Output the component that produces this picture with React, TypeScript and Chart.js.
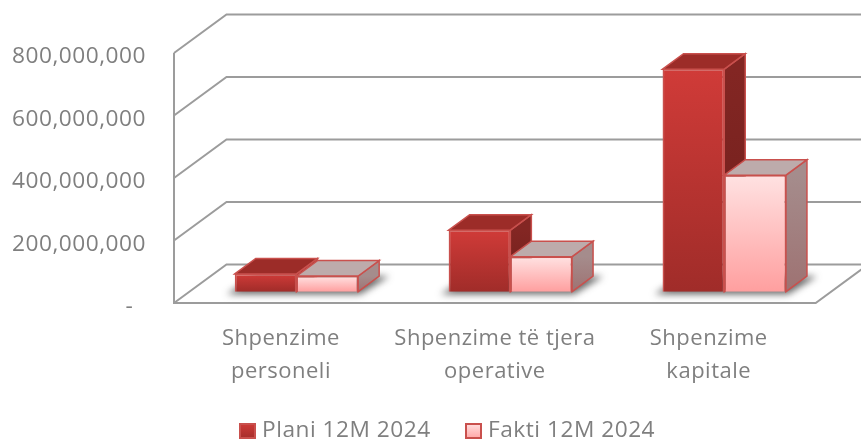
import React, { useEffect, useRef } from "react";
import { Chart, registerables } from "chart.js";

Chart.register(...registerables);

const categories = [["Shpenzime", "personeli"], ["Shpenzime të tjera", "operative"], ["Shpenzime", "kapitale"]];
const plani = [57000000, 197000000, 712000000];
const fakti = [50000000, 112000000, 373000000];
const seriesNames = ["Plani 12M 2024", "Fakti 12M 2024"];
const yMax = 800000000;
const yStep = 200000000;

const FONT = "'Open Sans', sans-serif";
const X_SIZE = 22;
const Y_SIZE = 22.7;
const TEXT = "#7f7f7f";
const GRID = "#9c9c9c";
const BORDER = "#c9504d";
const WALL = { x: 52.5, y: -38.5 };
const SHIFT = { x: 15.5, y: -11.3 };
const DEPTH = { x: 21, y: -15.5 };
const LEGEND = { boxes: [239, 465], top: 423, box: 17, gap: 6, textY: 431 };

const palettes = [
  { top: "#d03b38", bottom: "#a02c29", topFace: "#9c2c28", sideTop: "#832623", sideBottom: "#6f1f1c" },
  { top: "#ffe2e2", bottom: "#ff9f9f", topFace: "#bdabab", sideTop: "#a58c8c", sideBottom: "#9e7272" },
];

const frontGradient = (idx: number) => (c: any) => {
  const { chart } = c;
  if (c.type !== "data" || !chart.scales.y) return palettes[idx].top;
  const y = chart.scales.y;
  const y0 = y.getPixelForValue(c.raw);
  const y1 = y.getPixelForValue(0);
  if (!Number.isFinite(y0) || !Number.isFinite(y1)) return palettes[idx].top;
  const g = chart.ctx.createLinearGradient(0, y0, 0, y1);
  g.addColorStop(0, palettes[idx].top);
  g.addColorStop(1, palettes[idx].bottom);
  return g;
};

const poly = (ctx: CanvasRenderingContext2D, pts: number[][]) => {
  ctx.beginPath();
  pts.forEach(([x, y], i) => (i ? ctx.lineTo(x, y) : ctx.moveTo(x, y)));
  ctx.closePath();
};

const scene3d = {
  id: "scene3d",
  beforeDraw(chart: any) {
    chart.ctx.letterSpacing = "0.5px";
  },
  beforeDatasetsDraw(chart: any) {
    const { ctx, chartArea: a, scales } = chart;
    ctx.save();
    ctx.strokeStyle = GRID;
    ctx.lineWidth = 2;
    scales.y.ticks.forEach((t: any) => {
      const py = scales.y.getPixelForValue(t.value);
      ctx.beginPath();
      ctx.moveTo(a.left, py);
      ctx.lineTo(a.left + WALL.x, py + WALL.y);
      ctx.lineTo(a.right + WALL.x, py + WALL.y);
      ctx.stroke();
    });
    ctx.beginPath();
    ctx.moveTo(a.left, a.top);
    ctx.lineTo(a.left, a.bottom);
    ctx.lineTo(a.right, a.bottom);
    ctx.lineTo(a.right + WALL.x, a.bottom + WALL.y);
    ctx.stroke();

    ctx.translate(SHIFT.x, SHIFT.y);
    const m0 = chart.getDatasetMeta(0).data;
    const m1 = chart.getDatasetMeta(1).data;
    ctx.save();
    ctx.filter = "blur(3.5px)";
    ctx.fillStyle = "rgba(40,40,40,0.7)";
    m0.forEach((b: any, i: number) => {
      const l = b.x - b.width / 2;
      const r = m1[i].x + m1[i].width / 2;
      const base = b.base;
      poly(ctx, [
        [l - 8, base + 2.5],
        [r + 2, base + 2.5],
        [r + DEPTH.x + 10, base + DEPTH.y],
        [l + DEPTH.x, base + DEPTH.y],
      ]);
      ctx.fill();
    });
    ctx.restore();
    ctx.strokeStyle = BORDER;
    ctx.lineWidth = 1.5;
    [m0, m1].forEach((bars: any[], d: number) => {
      const p = palettes[d];
      bars.forEach((b: any) => {
        const l = b.x - b.width / 2;
        const r = b.x + b.width / 2;
        const g = ctx.createLinearGradient(0, b.y, 0, b.base);
        g.addColorStop(0, p.sideTop);
        g.addColorStop(1, p.sideBottom);
        ctx.fillStyle = g;
        poly(ctx, [
          [r, b.y],
          [r + DEPTH.x, b.y + DEPTH.y],
          [r + DEPTH.x, b.base + DEPTH.y],
          [r, b.base],
        ]);
        ctx.fill();
        ctx.stroke();
        ctx.fillStyle = p.topFace;
        poly(ctx, [
          [l, b.y],
          [l + DEPTH.x, b.y + DEPTH.y],
          [r + DEPTH.x, b.y + DEPTH.y],
          [r, b.y],
        ]);
        ctx.fill();
        ctx.stroke();
      });
    });
  },
  afterDatasetsDraw(chart: any) {
    chart.ctx.restore();
  },
  afterDraw(chart: any) {
    const { ctx } = chart;
    ctx.save();
    seriesNames.forEach((name, i) => {
      const x = LEGEND.boxes[i];
      const g = ctx.createLinearGradient(0, LEGEND.top, 0, LEGEND.top + LEGEND.box);
      g.addColorStop(0, palettes[i].top);
      g.addColorStop(1, palettes[i].bottom);
      ctx.fillStyle = g;
      ctx.strokeStyle = BORDER;
      ctx.lineWidth = 2;
      ctx.fillRect(x, LEGEND.top, LEGEND.box, LEGEND.box - 1);
      ctx.strokeRect(x + 1, LEGEND.top + 1, LEGEND.box - 2, LEGEND.box - 3);
      ctx.fillStyle = TEXT;
      ctx.font = `${Y_SIZE}px ${FONT}`;
      ctx.textBaseline = "middle";
      ctx.textAlign = "left";
      ctx.fillText(name, x + LEGEND.box + LEGEND.gap, LEGEND.textY);
    });
    ctx.restore();
  },
};

export default function App() {
  const ref = useRef<HTMLCanvasElement>(null);
  useEffect(() => {
    const canvas = ref.current!;
    const chart = new Chart(canvas, {
      type: "bar",
      data: {
        labels: categories as any,
        datasets: [plani, fakti].map((data, i) => ({
          label: seriesNames[i],
          data,
          backgroundColor: frontGradient(i),
          borderColor: BORDER,
          borderWidth: 1.5,
          barPercentage: 1,
          categoryPercentage: 0.577,
          clip: false as any,
        })),
      },
      options: {
        animation: false,
        responsive: false,
        layout: { autoPadding: false, padding: { top: 53, right: 45.3, left: 0, bottom: 0 } },
        plugins: {
          tooltip: { enabled: false },
          legend: { display: false },
        },
        scales: {
          x: {
            grid: { display: false },
            border: { display: false },
            afterFit: (s: any) => {
              s.height = 136;
            },
            ticks: {
              padding: 11,
              color: TEXT,
              maxRotation: 0,
              autoSkip: false,
              font: { family: FONT, size: X_SIZE, lineHeight: 33 / X_SIZE },
            },
          },
          y: {
            min: 0,
            max: yMax,
            grid: { display: false, drawTicks: false },
            border: { display: false },
            afterFit: (s: any) => {
              s.width = 174;
            },
            ticks: {
              stepSize: yStep,
              padding: 28,
              color: TEXT,
              font: { family: FONT, size: Y_SIZE, lineHeight: 8 / Y_SIZE },
              callback: (v: any) => ["", v === 0 ? "-  " : Number(v).toLocaleString("en-US")],
            },
          },
        },
      },
      plugins: [scene3d],
    } as any);
    return () => chart.destroy();
  }, []);
  return (
    <div style={{ position: "fixed", left: 0, top: 0, width: 861, height: 439, background: "#fff" }}>
      <canvas ref={ref} width={861} height={439} style={{ display: "block", filter: "blur(0.45px)" }} />
    </div>
  );
}
